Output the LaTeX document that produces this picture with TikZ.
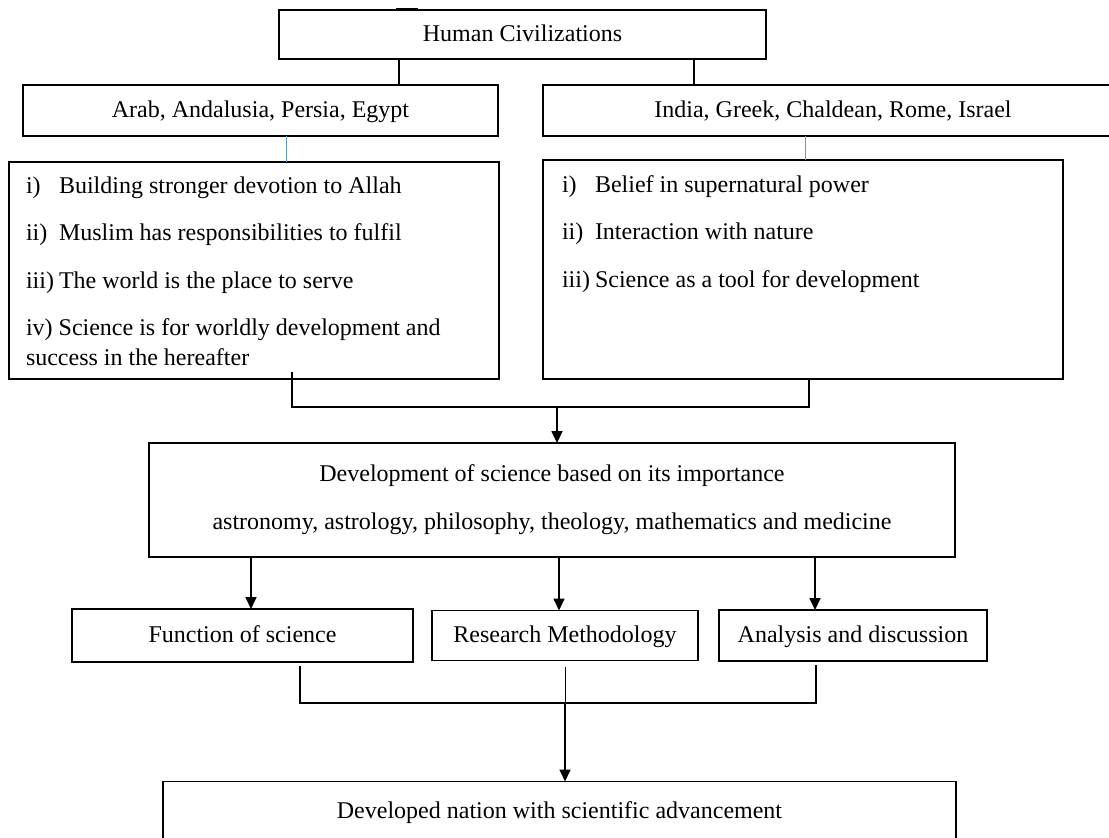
\documentclass[tikz,border=0pt]{standalone}
\usepackage{fontspec}
\setmainfont{Liberation Serif}
\usetikzlibrary{arrows.meta,positioning,calc}
\definecolor{linkblue}{RGB}{91,155,213}
\newcommand{\itemlbl}[1]{\makebox[16.5pt][l]{#1}}

\begin{document}
\begin{tikzpicture}[
    font=\fontsize{12}{15}\selectfont,
    box/.style={rectangle, draw, line width=0.6pt, inner sep=0pt, outer sep=0pt, text height=8.5pt, text depth=1.5pt},
    listbox/.style={rectangle, draw, line width=0.6pt, outer sep=0pt},
    devbox/.style={rectangle, draw, line width=0.6pt, inner sep=0pt, outer sep=0pt, align=center},
    link/.style={line width=0.6pt},
    bluelink/.style={draw=linkblue, line width=0.5pt},
    arrow/.style={-{Triangle[length=6pt,width=5.5pt]}, line width=0.85pt}
]

\useasboundingbox (0,0) rectangle (554.5pt,-418.5pt);

% Top level
\node[box, minimum width=243.5pt, minimum height=24.5pt] (human) at (261.25pt,-17.25pt) {Human Civilizations};

% Civilization groups
\node[box, minimum width=237.5pt, minimum height=25.5pt, below=13pt of human, xshift=-131pt] (arab) {Arab, Andalusia, Persia, Egypt};
\node[box, minimum width=290pt, minimum height=25.5pt, right=22.5pt of arab] (india) {India, Greek, Chaldean, Rome, Israel};

% Characteristics
\node[listbox, inner xsep=8.5pt, inner ysep=5pt, below=13pt of arab, xshift=-3.25pt] (leftlist) {\parbox[c][98.5pt][t]{228pt}{%
    \strut\itemlbl{i)}Building stronger devotion to Allah\\[8.75pt]
    \itemlbl{ii)}Muslim has responsibilities to fulfil\\[8.75pt]
    \itemlbl{iii)}The world is the place to serve\\[8.75pt]
    iv) Science is for worldly development and\\
    success in the hereafter}};
\node[listbox, inner xsep=9.5pt, inner ysep=5.5pt, below=12pt of india, xshift=-15pt] (rightlist) {\parbox[c][98.5pt][t]{241pt}{%
    \strut\itemlbl{i)}Belief in supernatural power\\[8.75pt]
    \itemlbl{ii)}Interaction with nature\\[8.75pt]
    \itemlbl{iii)}Science as a tool for development}};

% Development
\node[devbox, minimum width=403pt, minimum height=57pt, below=32pt of leftlist, xshift=149pt] (dev) {Development of science based on its importance\\[9pt]
    astronomy, astrology, philosophy, theology, mathematics and medicine};

% Outcomes
\node[box, minimum width=170.5pt, minimum height=26.5pt, below=26pt of dev, xshift=-154.75pt] (func) {Function of science};
\node[box, minimum width=133pt, minimum height=25pt, right=9.5pt of func] (research) {Research Methodology};
\node[box, minimum width=134pt, minimum height=25.5pt, right=10.5pt of research] (analysis) {Analysis and discussion};

% Goal
\node[box, minimum width=396.5pt, minimum height=30pt, below=60.5pt of research, xshift=-2.75pt] (final) {Developed nation with scientific advancement};

% Connectors
\draw[line width=1.2pt] ([xshift=-63.25pt,yshift=0.4pt]human.north) -- ([xshift=-52.25pt,yshift=0.4pt]human.north);
\draw[link, line width=1pt] ([xshift=-61.75pt]human.south) -- ([xshift=-61.75pt]human.south |- arab.north);
\draw[link, line width=1pt] ([xshift=85.75pt]human.south) -- ([xshift=85.75pt]human.south |- india.north);
\draw[bluelink] ([xshift=12.75pt]arab.south) -- ([xshift=12.75pt]arab.south |- leftlist.north);
\draw[bluelink] ([xshift=-14pt]india.south) -- ([xshift=-14pt]india.south |- rightlist.north);

\draw[link] ([xshift=19pt,yshift=3.5pt]leftlist.south) -- ++(0,-17.5pt) coordinate (mergetop) -| ([xshift=3pt]rightlist.south);
\draw[arrow] ([xshift=2.5pt]dev.north |- mergetop) -- ([xshift=2.5pt]dev.north);

\draw[arrow] ([xshift=4.25pt]func.north |- dev.south) -- ([xshift=4.25pt]func.north);
\draw[arrow] ([xshift=-3pt]research.north |- dev.south) -- ([xshift=-3pt]research.north);
\draw[arrow] ([xshift=-19pt]analysis.north |- dev.south) -- ([xshift=-19pt]analysis.north);

\draw[link] ([xshift=28.75pt,yshift=-2pt]func.south) -- ++(0,-18.5pt) coordinate (mergelow) -| ([xshift=-18.5pt,yshift=-2pt]analysis.south);
\draw[link, line width=0.4pt] ([yshift=-3pt]research.south) -- (research.south |- mergelow);
\draw[arrow] (research.south |- mergelow) -- (research.south |- final.north);

\end{tikzpicture}
\end{document}
